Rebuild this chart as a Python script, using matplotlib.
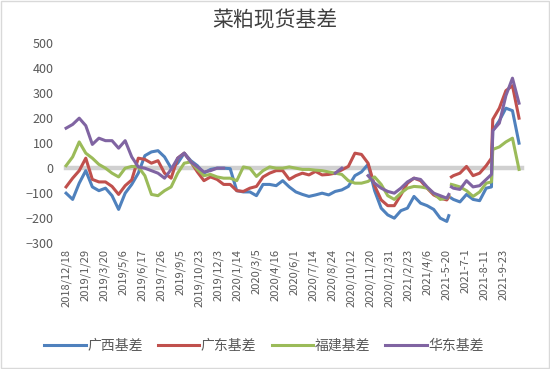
import numpy as np
import matplotlib
matplotlib.use('Agg')
import matplotlib.pyplot as plt

plt.rcParams['font.family'] = ['Noto Sans CJK SC', 'DejaVu Sans']
nan = np.nan

# trading-day index of each reading
idx = [0, 10, 20, 30, 40, 50, 60, 70, 80, 90, 100, 110, 120, 130, 140, 150, 160, 170, 180, 190,
       200, 210, 220, 230, 240, 250, 260, 270, 280, 290, 300, 310, 320, 330, 340, 350, 360, 370, 380, 390,
       400, 410, 420, 430, 440, 450, 460, 470, 480, 490, 500, 510, 520, 530, 540, 550, 560, 570, 580, 583,
       585, 587, 590, 600, 610, 620, 630, 640, 648, 650, 660, 670, 680, 690]

guangxi = [-100, -125, -60, -10, -75, -90, -80, -110, -165, -100, -65, -20, 50, 65, 70, 45, 0, 20, 60, 30,
           10, -20, -5, 0, 0, -2, -90, -95, -95, -110, -65, -65, -70, -50, -75, -95, -105, -113, -107, -100,
           -107, -93, -87, -73, -30, -15, 15, -90, -160, -187, -200, -170, -160, -113, -140, -150, -165, -200, -213, -190,
           nan, -120, -125, -135, -105, -125, -130, -80, -75, 150, 190, 240, 230, 100]

guangdong = [-75, -40, -10, 40, -45, -55, -55, -73, -105, -70, -47, 40, 35, 20, 30, -20, -40, 40, 60, 25,
             -15, -50, -35, -45, -65, -65, -90, -93, -80, -73, -35, -20, -10, -10, -45, -30, -20, -27, -13, -27,
             -25, -20, -7, 7, 60, 55, 20, -70, -127, -150, -150, -107, -60, -40, -50, -80, -107, -120, -127, -115,
             nan, -35, -30, -20, 7, -30, -20, 10, 40, 195, 240, 310, 330, 200]

fujian = [10, 45, 105, 60, 40, 15, 0, -20, -35, 0, 7, 5, -30, -105, -110, -90, -75, -20, 20, 25,
          -5, -30, -25, -35, -40, -40, -50, 5, 0, -33, -10, 5, 0, 0, 5, 0, -5, -5, -8, -10,
          -15, -20, -25, -50, -60, -60, -53, -35, -65, -110, -125, -100, -80, -73, -75, -80, -100, -125, -120, -110,
          nan, -65, -67, -75, -90, -113, -95, -60, -55, 75, 85, 105, 120, -5]

huadong = [160, 175, 200, 170, 95, 120, 110, 110, 80, 110, 45, 5, 0, -10, -20, -40, -5, 40, 60, 25,
           5, -15, -10, 0, 0, nan, nan, nan, nan, nan, nan, nan, nan, nan, nan, nan, nan, nan, nan, nan,
           nan, -20, 0, nan, nan, nan, -30, -60, -80, -93, -100, -80, -55, -40, -45, -75, -100, -110, -120, -105,
           nan, -75, -80, -85, -50, -75, -70, -45, -25, 150, 180, 290, 360, 260]

tick_labels = ['2018/12/18', '2019/1/29', '2019/3/20', '2019/5/6', '2019/6/17', '2019/7/26',
               '2019/9/5', '2019/10/23', '2019/12/3', '2020/1/14', '2020/3/5', '2020/4/16',
               '2020/6/1', '2020/7/14', '2020/8/24', '2020/10/12', '2020/11/20', '2020/12/31',
               '2021/2/23', '2021/4/6', '2021-5-20', '2021-7-1', '2021-8-11', '2021-9-23']
tick_pos = [i * 29 for i in range(len(tick_labels))]

fig = plt.figure(figsize=(5.5, 3.69), dpi=100)
ax = fig.add_axes([0.113, 0.341, 0.845, 0.542])

ax.plot([idx[0], 695], [0, 0], color='#d0d0d0', lw=3.2, zorder=1)
ax.plot(idx, guangxi, color='#4f81bd', lw=2.2, label='广西基差', zorder=2)
ax.plot(idx, guangdong, color='#c0504d', lw=2.2, label='广东基差', zorder=2)
ax.plot(idx, fujian, color='#9bbb59', lw=2.2, label='福建基差', zorder=2)
ax.plot(idx, huadong, color='#8064a2', lw=2.2, label='华东基差', zorder=2)

ax.set_xlim(-6, 702)
ax.set_ylim(-300, 500)
ax.set_yticks(range(-300, 501, 100))
ax.set_xticks(tick_pos)
ax.set_xticklabels(tick_labels, rotation=90, fontsize=8, color='#595959')
ax.tick_params(axis='y', labelsize=9, labelcolor='#595959', length=0, pad=6)
ax.tick_params(axis='x', length=0, pad=4)
for s in ax.spines.values():
    s.set_visible(False)

fig.suptitle('菜粕现货基差', x=0.5, y=0.975, fontsize=15, color='#404040')
fig.legend(loc='lower center', bbox_to_anchor=(0.48, 0.01), ncol=4, frameon=False,
           fontsize=10, labelcolor='#595959', handlelength=3.0, handletextpad=0.1,
           columnspacing=1.1)

fig.patches.append(plt.Rectangle((0.002, 0.003), 0.996, 0.994, transform=fig.transFigure,
                                 fill=False, edgecolor='#d9d9d9', lw=1))

fig.savefig('out.png', dpi=100)
